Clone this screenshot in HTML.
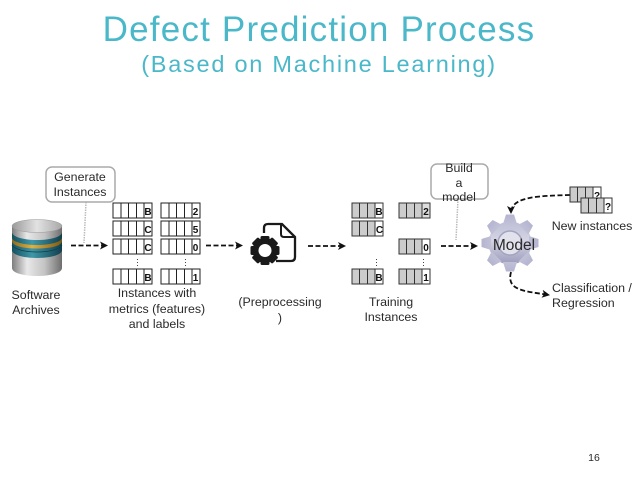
<!DOCTYPE html>
<html><head><meta charset="utf-8"><style>
html,body{margin:0;padding:0;background:#fff;width:638px;height:479px;overflow:hidden}
svg{display:block}
text{font-family:"Liberation Sans",sans-serif;fill:#2a2a2a;font-size:12.4px;text-anchor:middle}
.b{font-weight:bold;font-size:10px;fill:#111}
</style></head><body>
<svg width="638" height="479" viewBox="0 0 638 479" xmlns="http://www.w3.org/2000/svg">
<defs>
<linearGradient id="m" x1="0" x2="1" y1="0" y2="0"><stop offset="0" stop-color="#7d7d7d"/><stop offset=".3" stop-color="#e8e8e8"/><stop offset=".65" stop-color="#c4c4c4"/><stop offset="1" stop-color="#6e6e6e"/></linearGradient>
<linearGradient id="top" x1="0" x2="1" y1="0" y2="0"><stop offset="0" stop-color="#9a9a9a"/><stop offset=".5" stop-color="#e2e2e2"/><stop offset="1" stop-color="#a8a8a8"/></linearGradient>
<linearGradient id="t" x1="0" x2="1" y1="0" y2="0"><stop offset="0" stop-color="#14505f"/><stop offset=".4" stop-color="#3f98a8"/><stop offset="1" stop-color="#103f4e"/></linearGradient>
<linearGradient id="o" x1="0" x2="1" y1="0" y2="0"><stop offset="0" stop-color="#8a6a20"/><stop offset=".4" stop-color="#e0b040"/><stop offset="1" stop-color="#7a5a18"/></linearGradient>
<linearGradient id="g" gradientUnits="userSpaceOnUse" x1="510" x2="510" y1="214" y2="272"><stop offset="0" stop-color="#b4b4d0"/><stop offset=".45" stop-color="#d4d4e4"/><stop offset="1" stop-color="#8a8aae"/></linearGradient>
<marker id="a" markerWidth="10" markerHeight="10" refX="7" refY="5" orient="auto" markerUnits="userSpaceOnUse"><path d="M0 1L8 5L0 9L2 5Z" fill="#111"/></marker>
<g id="w"><rect x="0" y="0" width="39" height="15" fill="#fff" stroke="#222"/><path d="M8 0V15M15.500 0V15M23.500 0V15M31 0V15" stroke="#222" fill="none"/></g>
<g id="s"><rect x="0" y="0" width="31" height="15" fill="#ccc" stroke="#333"/><rect x="23" y="0" width="8" height="15" fill="#fff" stroke="#333"/><path d="M7.500 0V15M15.500 0V15" stroke="#333" fill="none"/></g>
<path id="th" d="M503 224L506 214.500H514L517 224Z" fill="url(#g)"/>
</defs>

<text x="319" y="41" style="font-size:35px;fill:#4ab8c9;letter-spacing:1.2px">Defect Prediction Process</text>
<text x="319" y="72" style="font-size:23.500px;fill:#4ab8c9;letter-spacing:1.75px">(Based on Machine Learning)</text>

<!-- database -->
<path d="M12 226V268C12 273 24 276 37 276S62 273 62 268V226Z" fill="url(#m)"/>
<path d="M12 232V250C12 255 24 258 37 258S62 255 62 250V232Z" fill="url(#t)"/>
<path d="M12 237.500C12 242 24 245 37 245S62 242 62 237.500V241C62 246 50 248.500 37 248.500S12 246 12 241Z" fill="url(#o)"/>
<path d="M12 245C14 249 24 252 37 252S60 249 62 245" fill="none" stroke="#0f3f4e" stroke-width=".8"/>
<path d="M12 226V232C12 237 24 240 37 240S62 237 62 232V226Z" fill="url(#m)"/>
<ellipse cx="37" cy="226" rx="25" ry="6.500" fill="url(#top)" stroke="#999" stroke-width=".5"/>
<text x="36" y="299">Software</text><text x="36" y="314">Archives</text>

<!-- callouts -->
<line x1="86" y1="202" x2="84" y2="243" stroke="#bbb" stroke-width="1.500" stroke-dasharray="1.500 1"/>
<line x1="458" y1="199" x2="456" y2="240" stroke="#bbb" stroke-width="1.500" stroke-dasharray="1.500 1"/>
<rect x="46" y="167" width="69" height="35" rx="6" fill="#fff" stroke="#aaa" stroke-width="1.500"/>
<text x="80" y="181">Generate</text><text x="80" y="196">Instances</text>
<rect x="431" y="164" width="57" height="35" rx="6" fill="#fff" stroke="#aaa" stroke-width="1.500"/>
<text x="459" y="172">Build</text><text x="459" y="187">a</text><text x="459" y="201">model</text>

<!-- arrows -->
<g fill="none" stroke="#111" stroke-width="1.800" stroke-dasharray="5 2.500" marker-end="url(#a)">
<path d="M71 245.500H107"/>
<path d="M206 245.500H242"/>
<path d="M308 246H345"/>
<path d="M441 246H477"/>
<path d="M570 195C540 196 511 196 511 213"/>
<path d="M511 272C506 291 525 291 549 295"/>
</g>

<!-- tables -->
<use href="#w" x="113" y="203"/><use href="#w" x="113" y="221"/><use href="#w" x="113" y="239"/><use href="#w" x="113" y="269"/>
<use href="#w" x="161" y="203"/><use href="#w" x="161" y="221"/><use href="#w" x="161" y="239"/><use href="#w" x="161" y="269"/>
<text class="b" x="148" y="215">B</text><text class="b" x="148" y="233">C</text><text class="b" x="148" y="251">C</text><text class="b" x="148" y="281">B</text>
<text class="b" x="195.500" y="215">2</text><text class="b" x="195.500" y="233">5</text><text class="b" x="195.500" y="251">0</text><text class="b" x="195.500" y="281">1</text>
<g fill="#444"><rect x="137" y="259" width="1" height="1"/><rect x="137" y="262" width="1" height="1"/><rect x="137" y="265" width="1" height="1"/><rect x="185" y="259" width="1" height="1"/><rect x="185" y="262" width="1" height="1"/><rect x="185" y="265" width="1" height="1"/><rect x="376" y="259" width="1" height="1"/><rect x="376" y="262" width="1" height="1"/><rect x="376" y="265" width="1" height="1"/><rect x="423" y="259" width="1" height="1"/><rect x="423" y="262" width="1" height="1"/><rect x="423" y="265" width="1" height="1"/></g>
<text x="157" y="297">Instances with</text><text x="157" y="313">metrics (features)</text><text x="157" y="328">and labels</text>

<use href="#s" x="352" y="203"/><use href="#s" x="352" y="221"/><use href="#s" x="352" y="269"/>
<use href="#s" x="399" y="203"/><use href="#s" x="399" y="239"/><use href="#s" x="399" y="269"/>
<rect x="422" y="203" width="8" height="15" fill="#ddd" stroke="#333"/>
<text class="b" x="379" y="215">B</text><text class="b" x="379.500" y="233">C</text><text class="b" x="379" y="281">B</text>
<text class="b" x="426" y="215">2</text><text class="b" x="426" y="251">0</text><text class="b" x="426" y="281">1</text>
<text x="391" y="306">Training</text><text x="391" y="321">Instances</text>

<!-- preprocess icon -->
<path d="M264 233V228Q264 224 268 224H282L295 237V257Q295 261 291 261H276" fill="none" stroke="#1a1a1a" stroke-width="2.300"/>
<path d="M281 224V234Q281 237 284 237H295" fill="none" stroke="#1a1a1a" stroke-width="2"/>
<g fill="#1a1a1a"><circle cx="265" cy="250.500" r="12.500"/>
<rect x="260.500" y="236" width="9" height="29" rx="1.500"/>
<rect x="260.500" y="236" width="9" height="29" rx="1.500" transform="rotate(45 265 250.500)"/>
<rect x="260.500" y="236" width="9" height="29" rx="1.500" transform="rotate(90 265 250.500)"/>
<rect x="260.500" y="236" width="9" height="29" rx="1.500" transform="rotate(135 265 250.500)"/></g>
<circle cx="265" cy="250.500" r="6.500" fill="#fff"/>
<text x="280" y="306">(Preprocessing</text><text x="280" y="322">)</text>

<!-- gear -->
<circle cx="510" cy="243" r="21.500" fill="url(#g)"/>
<use href="#th"/>
<use href="#th" transform="rotate(45 510 243)"/>
<use href="#th" transform="rotate(90 510 243)"/>
<use href="#th" transform="rotate(135 510 243)"/>
<use href="#th" transform="rotate(180 510 243)"/>
<use href="#th" transform="rotate(225 510 243)"/>
<use href="#th" transform="rotate(270 510 243)"/>
<use href="#th" transform="rotate(315 510 243)"/>
<circle cx="510" cy="243" r="12" fill="#e2e2ec" stroke="#a4a4c0" stroke-width="1.500"/>
<text x="514" y="250" style="font-size:15.500px">Model</text>

<!-- new instances -->
<use href="#s" x="570" y="187"/>
<use href="#s" x="581" y="198"/>
<text class="b" x="597" y="199">?</text><text class="b" x="608" y="210">?</text>
<text x="592" y="230">New instances</text>
<text x="552" y="292" style="text-anchor:start">Classification /</text>
<text x="552" y="307" style="text-anchor:start">Regression</text>
<text x="594" y="461" style="font-size:10.500px">16</text>
</svg>
</body></html>
